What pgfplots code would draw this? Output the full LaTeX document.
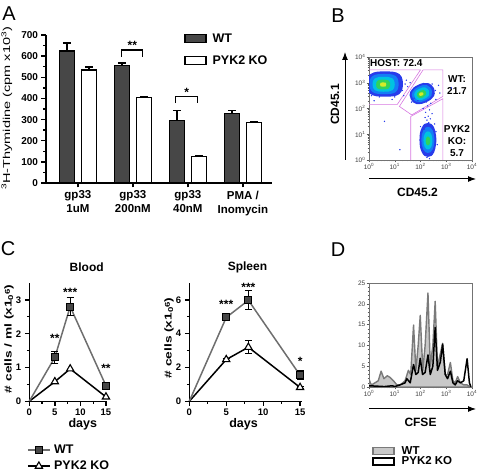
\documentclass[border=0pt]{standalone}
\usepackage{pgfplots}
\pgfplotsset{compat=1.18}
\usepackage{fontspec}
\setmainfont{Liberation Sans}
\usetikzlibrary{arrows.meta}
\definecolor{wtbar}{HTML}{474747}
\definecolor{wtline}{HTML}{6E6E6E}
\definecolor{gate}{RGB}{215,120,225}
\definecolor{j1}{RGB}{40,60,235}
\definecolor{j2}{RGB}{20,125,245}
\definecolor{j3}{RGB}{0,195,225}
\definecolor{j4}{RGB}{50,210,90}
\definecolor{j5}{RGB}{215,235,40}
\definecolor{dfill}{HTML}{C8C8C8}
\definecolor{dline}{HTML}{7A7A7A}
\newcommand{\fs}[1]{\fontsize{#1}{#1}\selectfont}
\pgfplotsset{
  boxlegendA/.style={legend image code/.code={\draw[##1] (0pt,-4pt) rectangle (21pt,4pt);}},
  boxlegendD/.style={legend image code/.code={\draw[##1] (0pt,-3.5pt) rectangle (21pt,3.5pt);}},
  linelegend/.style={legend image code/.code={\draw[mark repeat=2,mark phase=2,##1] plot coordinates {(0pt,0pt) (11pt,0pt) (22pt,0pt)};}},
  blob/.style={fill=#1, draw=none, smooth, tension=0.75, forget plot},
  flowax/.style={scale only axis, anchor=south west,
     xmin=0, xmax=4, xtick={0,1,2,3,4},
     xticklabels={10\textsuperscript{0},10\textsuperscript{1},10\textsuperscript{2},10\textsuperscript{3},10\textsuperscript{4}},
     minor xtick={0.301,0.477,0.602,0.699,0.778,0.845,0.903,0.954,1.301,1.477,1.602,1.699,1.778,1.845,1.903,1.954,2.301,2.477,2.602,2.699,2.778,2.845,2.903,2.954,3.301,3.477,3.602,3.699,3.778,3.845,3.903,3.954},
     tick align=outside, tick pos=left, major tick length=2.5pt, minor tick length=1.3pt,
     every tick/.style={black!65, line width=0.4pt},
     axis line style={black!55, line width=0.5pt},
     ticklabel style={font=\fs{6.5}, text=black!75, inner sep=1pt},
     /pgf/number format/assume math mode=true},
  catax/.style={scale only axis, anchor=south west, clip=false,
     axis x line*=bottom, axis y line*=left,
     axis line style={line width=1.3pt},
     tick align=outside, major tick length=4.5pt, minor tick length=2.5pt,
     every tick/.style={line width=1.3pt, black},
     /pgf/number format/assume math mode=true},
}
\begin{document}
\begin{tikzpicture}
\path[use as bounding box] (0,0) rectangle (482pt,476pt);

% ---------------- Panel A ----------------
\begin{axis}[catax, name=A,
  at={(46pt,293pt)}, width=226pt, height=148pt,
  xmin=-0.58, xmax=3.53, ymin=0, ymax=700,
  ybar, bar width=0.27,
  xtick={0,1,2,3},
  xticklabels={{gp33\\1uM},{gp33\\200nM},{gp33\\40nM},{PMA /\\Inomycin}},
  xticklabel style={align=center, font=\fontsize{11.5}{14}\selectfont\bfseries, inner sep=1pt, yshift=-2pt},
  ytick={0,100,...,700}, minor y tick num=1,
  yticklabel style={font=\fs{10}\bfseries},
  ylabel={\scalebox{1.45}[1]{\textsuperscript{3}H-Thymidine (cpm x10\textsuperscript{3})}},
  ylabel style={font=\fs{10}, at={(rel axis cs:-0.173,0.505)}, anchor=center},
  legend style={at={(rel axis cs:0.611,1.025)}, anchor=north west, draw=none, fill=none,
     font=\fs{12.5}\bfseries, row sep=8pt, inner sep=0pt,
     /tikz/every odd column/.append style={column sep=4pt}},
  legend cell align=left,
]
\addplot[forget plot, fill=wtbar, draw=black, line width=1.3pt, bar shift=-0.2,
  error bars/.cd, y dir=plus, y explicit,
  error bar style={line width=1.3pt, black},
  error mark options={rotate=90, mark size=4pt, line width=1.3pt, black}]
  coordinates {(0,625) +- (0,37) (1,555) +- (0,13) (2,295) +- (0,47) (3,328) +- (0,14)};
\addplot[forget plot, fill=white, draw=black, line width=1.3pt, bar shift=0.2,
  error bars/.cd, y dir=plus, y explicit,
  error bar style={line width=1.3pt, black},
  error mark options={rotate=90, mark size=4pt, line width=1.3pt, black}]
  coordinates {(0,535) +- (0,14) (1,403) +- (0,5) (2,125) +- (0,2) (3,285) +- (0,5)};
\addlegendimage{boxlegendA, fill=wtbar, draw=black, line width=1.3pt}
\addlegendentry{WT}
\addlegendimage{boxlegendA, fill=white, draw=black, line width=1.3pt}
\addlegendentry{PYK2 KO}
\draw[line width=1.1pt] (axis cs:0.8,596) -- (axis cs:0.8,629) -- (axis cs:1.18,629) -- (axis cs:1.18,596);
\node[font=\fs{12}\bfseries, anchor=base, inner sep=0pt] at (axis cs:0.99,630) {**};
\draw[line width=1.1pt] (axis cs:1.78,378) -- (axis cs:1.78,407) -- (axis cs:2.18,407) -- (axis cs:2.18,378);
\node[font=\fs{12}\bfseries, anchor=base, inner sep=0pt] at (axis cs:1.98,408) {*};
\end{axis}

% ---------------- Panel B ----------------
\begin{axis}[flowax, name=B,
  at={(369pt,316pt)}, width=103pt, height=103pt,
  ymin=0, ymax=4, ytick={0,1,2,3,4},
  yticklabels={10\textsuperscript{0},10\textsuperscript{1},10\textsuperscript{2},10\textsuperscript{3},10\textsuperscript{4}},
  minor ytick={0.301,0.477,0.602,0.699,0.778,0.845,0.903,0.954,1.301,1.477,1.602,1.699,1.778,1.845,1.903,1.954,2.301,2.477,2.602,2.699,2.778,2.845,2.903,2.954,3.301,3.477,3.602,3.699,3.778,3.845,3.903,3.954},
]
% HOST population
\addplot[blob=j1] coordinates {(1.32,2.95)(1.18,3.34)(0.62,3.44)(0.06,3.34)(-0.08,2.95)(0.06,2.56)(0.62,2.46)(1.18,2.56)(1.32,2.95)};
\addplot[blob=j2] coordinates {(1.15,2.95)(1.04,3.26)(0.59,3.34)(0.14,3.26)(0.03,2.95)(0.14,2.64)(0.59,2.56)(1.04,2.64)(1.15,2.95)};
\addplot[blob=j3] coordinates {(1.00,2.94)(0.91,3.17)(0.57,3.23)(0.23,3.17)(0.14,2.94)(0.23,2.71)(0.57,2.65)(0.91,2.71)(1.00,2.94)};
\addplot[blob=j4] coordinates {(0.82,2.93)(0.77,3.08)(0.55,3.12)(0.33,3.08)(0.28,2.93)(0.33,2.78)(0.55,2.74)(0.77,2.78)(0.82,2.93)};
\addplot[blob=j5] coordinates {(0.67,2.93)(0.65,3.00)(0.55,3.015)(0.45,3.00)(0.43,2.93)(0.45,2.86)(0.55,2.845)(0.65,2.86)(0.67,2.93)};
% WT population
\addplot[blob=j1] coordinates {(2.52,2.79)(2.29,2.99)(1.91,2.92)(1.61,2.67)(1.62,2.37)(1.85,2.17)(2.23,2.25)(2.53,2.49)(2.52,2.79)};
\addplot[blob=j2] coordinates {(2.42,2.75)(2.24,2.91)(1.93,2.85)(1.69,2.65)(1.70,2.41)(1.88,2.25)(2.19,2.31)(2.43,2.51)(2.42,2.75)};
\addplot[blob=j3] coordinates {(2.32,2.70)(2.18,2.82)(1.96,2.77)(1.78,2.63)(1.78,2.44)(1.92,2.32)(2.14,2.37)(2.33,2.51)(2.32,2.70)};
\addplot[blob=j4] coordinates {(2.21,2.64)(2.12,2.72)(1.98,2.69)(1.87,2.60)(1.87,2.48)(1.96,2.40)(2.10,2.43)(2.21,2.53)(2.21,2.64)};
\addplot[blob=j5] coordinates {(2.11,2.60)(2.07,2.63)(2.00,2.62)(1.95,2.58)(1.95,2.52)(1.99,2.49)(2.06,2.50)(2.11,2.54)(2.11,2.60)};
% PYK2 KO population
\addplot[blob=j1] coordinates {(2.62,0.78)(2.53,1.26)(2.29,1.44)(2.05,1.26)(1.96,0.78)(2.05,0.30)(2.29,0.12)(2.53,0.30)(2.62,0.78)};
\addplot[blob=j2] coordinates {(2.544,0.78)(2.473,1.146)(2.29,1.288)(2.107,1.146)(2.036,0.78)(2.107,0.414)(2.29,0.272)(2.473,0.414)(2.544,0.78)};
\addplot[blob=j3] coordinates {(2.465,0.76)(2.416,1.012)(2.29,1.11)(2.164,1.012)(2.115,0.76)(2.164,0.508)(2.29,0.41)(2.416,0.508)(2.465,0.76)};
\addplot[blob=j4] coordinates {(2.379,0.74)(2.354,0.868)(2.29,0.918)(2.226,0.868)(2.201,0.74)(2.226,0.612)(2.29,0.562)(2.354,0.612)(2.379,0.74)};
% scattered events
\addplot[only marks, mark=*, mark size=0.45pt, j1] coordinates {
 (2.25,1.55)(2.30,1.70)(2.20,1.85)(2.35,1.95)(2.28,2.10)(2.40,2.20)(2.18,1.65)(2.32,1.45)
 (2.45,1.80)(2.10,2.00)(2.22,2.25)(2.38,1.60)(1.30,2.70)(1.45,3.10)(1.50,2.85)(0.20,2.30)
 (0.90,2.35)(1.10,3.30)(2.60,2.35)(2.70,2.90)(1.75,2.40)(2.50,0.30)(2.05,0.50)(2.60,1.10)
 (2.00,1.30)(1.20,0.40)(0.60,1.50)(3.20,2.80)(2.35,0.05)(2.25,0.10)(1.35,2.50)(0.05,3.30)
 (1.60,3.00)(2.75,2.60)(2.55,1.40)(2.15,1.20)(1.90,2.30)(2.65,0.60)(1.40,2.95)(1.25,3.20)
 (0.10,2.50)(0.40,2.45)(1.00,2.45)(2.58,2.70)(2.45,2.95)(1.65,2.25)(2.00,0.95)(2.58,0.95)};
% gates
\addplot[gate, line width=0.6pt] coordinates {(0,3.5)(2.0,3.5)(1.1,2.16)(0,2.16)};
\addplot[gate, line width=0.6pt] coordinates {(2.1,3.5)(2.87,3.5)(2.87,2.47)(1.66,1.75)(1.18,2.08)(2.1,3.5)};
\addplot[gate, line width=0.6pt] coordinates {(1.62,0)(1.62,1.69)(2.87,2.38)(2.87,0)};
\node[anchor=west, font=\fs{10}\bfseries, inner sep=0pt] at (rel axis cs:0.01,0.94) {HOST: 72.4};
\node[align=center, font=\fontsize{10}{12}\selectfont\bfseries, inner sep=0pt] at (rel axis cs:0.854,0.73) {WT:\\21.7};
\node[align=center, font=\fontsize{10}{12}\selectfont\bfseries, inner sep=0pt] at (rel axis cs:0.854,0.184) {PYK2\\KO:\\5.7};
\end{axis}
\draw[line width=1pt, -{Latex[length=8pt,width=6pt]}] ([xshift=-24pt]B.south west) -- ([xshift=-24pt,yshift=5pt]B.north west);
\draw[line width=1pt, -{Latex[length=8pt,width=6pt]}] ([yshift=-19pt]B.south west) -- ([xshift=4pt,yshift=-19pt]B.south east);
\node[rotate=90, font=\fs{12}\bfseries] at ([xshift=-34pt,yshift=4pt]B.west) {CD45.1};
\node[font=\fs{12}\bfseries] at ([yshift=-32pt,xshift=-3pt]B.south) {CD45.2};

% ---------------- Panel C: Blood ----------------
\begin{axis}[catax, name=C1,
  at={(29.3pt,74.7pt)}, width=78.2pt, height=118.3pt,
  xmin=0, xmax=15.3, ymin=0, ymax=3.5,
  xtick={0,5,10,15}, minor x tick num=1,
  ytick={0,1,2,3}, minor y tick num=1,
  ticklabel style={font=\fs{9.5}\bfseries},
  title={Blood}, title style={at={(rel axis cs:0.734,1.085)}, anchor=center, font=\fs{12}\bfseries},
  xlabel={days}, xlabel style={at={(rel axis cs:0.684,-0.19)}, anchor=center, font=\fs{12.5}\bfseries},
  ylabel={\scalebox{1.37}[1]{\# cells / ml (x1\raisebox{-0.3ex}{\fs{7}0}\raisebox{0.3ex}{\fs{7}6})}},
  ylabel style={at={(rel axis cs:-0.26,0.527)}, anchor=center, font=\fs{10}\bfseries},
  legend style={at={(rel axis cs:-0.03,-0.35)}, anchor=north west, draw=none, fill=none,
     font=\fs{12.5}\bfseries, row sep=2pt, inner sep=0pt,
     /tikz/every odd column/.append style={column sep=1.5pt}},
  legend cell align=left,
]
\addplot[forget plot, black, line width=1.5pt, mark=triangle*, mark size=4.2pt, mark indices={2,3,4},
  mark options={fill=white, draw=black, line width=1.1pt}]
  coordinates {(0,0) (5,0.58) (8,0.96) (15,0.13)};
\addplot[forget plot, wtline, line width=1.5pt, mark=square*, mark size=3.5pt, mark indices={2,3,4},
  mark options={fill=wtbar, draw=black, line width=1pt},
  error bars/.cd, y dir=both, y explicit,
  error bar style={black, line width=1.2pt},
  error mark options={rotate=90, mark size=3.5pt, black, line width=1.2pt}]
  coordinates {(0,0) +- (0,0) (5,1.30) +- (0,0.17) (8,2.80) +- (0,0.27) (15,0.46) +- (0,0.04)};
\addlegendimage{linelegend, wtline, line width=1.5pt, mark=square*, mark size=3.5pt,
  mark options={fill=wtbar, draw=black, line width=1pt}}
\addlegendentry{WT}
\addlegendimage{linelegend, black, line width=1.5pt, mark=triangle*, mark size=4.2pt,
  mark options={fill=white, draw=black, line width=1.1pt}}
\addlegendentry{PYK2 KO}
\node[font=\fs{12}\bfseries, anchor=base, inner sep=0pt] at (axis cs:5,1.73) {**};
\node[font=\fs{12}\bfseries, anchor=base, inner sep=0pt] at (axis cs:8,3.10) {***};
\node[font=\fs{12}\bfseries, anchor=base, inner sep=0pt] at (axis cs:15,0.86) {**};
\end{axis}

% ---------------- Panel C: Spleen ----------------
\begin{axis}[catax, name=C2,
  at={(189.3pt,74.7pt)}, width=113pt, height=118.3pt,
  xmin=0, xmax=15.3, ymin=0, ymax=7,
  xtick={0,5,10,15}, minor x tick num=1,
  ytick={0,2,4,6}, minor y tick num=1,
  ticklabel style={font=\fs{9.5}\bfseries},
  title={Spleen}, title style={at={(rel axis cs:0.515,1.085)}, anchor=center, font=\fs{12}\bfseries},
  xlabel={days}, xlabel style={at={(rel axis cs:0.48,-0.19)}, anchor=center, font=\fs{12.5}\bfseries},
  ylabel={\scalebox{1.37}[1]{\# cells (x1\raisebox{-0.3ex}{\fs{7}0}\raisebox{0.3ex}{\fs{7}6})}},
  ylabel style={at={(rel axis cs:-0.18,0.536)}, anchor=center, font=\fs{10}\bfseries},
]
\addplot[black, line width=1.5pt, mark=triangle*, mark size=4.2pt, mark indices={2,3,4},
  mark options={fill=white, draw=black, line width=1.1pt},
  error bars/.cd, y dir=both, y explicit,
  error bar style={black, line width=1.2pt},
  error mark options={rotate=90, mark size=3.5pt, black, line width=1.2pt}]
  coordinates {(0,0) +- (0,0) (5,2.47) +- (0,0.08) (8,3.20) +- (0,0.38) (15,0.82) +- (0,0.05)};
\addplot[wtline, line width=1.5pt, mark=square*, mark size=3.5pt, mark indices={2,3,4},
  mark options={fill=wtbar, draw=black, line width=1pt},
  error bars/.cd, y dir=both, y explicit,
  error bar style={black, line width=1.2pt},
  error mark options={rotate=90, mark size=3.5pt, black, line width=1.2pt}]
  coordinates {(0,0) +- (0,0) (5,4.96) +- (0,0.18) (8,5.98) +- (0,0.57) (15,1.54) +- (0,0.25)};
\node[font=\fs{12}\bfseries, anchor=base, inner sep=0pt] at (axis cs:5,5.52) {***};
\node[font=\fs{12}\bfseries, anchor=base, inner sep=0pt] at (axis cs:8,6.50) {***};
\node[font=\fs{12}\bfseries, anchor=base, inner sep=0pt] at (axis cs:15,2.10) {*};
\end{axis}

% ---------------- Panel D ----------------
\begin{axis}[flowax, name=D,
  at={(369pt,89pt)}, width=103pt, height=104pt,
  ymin=0, ymax=25, ytick={0,5,10,15,20,25}, minor y tick num=4,
  legend style={at={(rel axis cs:0.03,-0.55)}, anchor=north west, draw=none, fill=none,
     font=\fs{11.5}\bfseries, row sep=-3pt, inner sep=0pt,
     /tikz/every odd column/.append style={column sep=5pt}},
  legend cell align=left,
]
\addplot[forget plot, fill=dfill, draw=dline, line width=1.4pt, line join=round] coordinates {
 (0.00,2.0)(0.05,1.0)(0.10,0.5)(0.23,1.0)(0.36,1.5)(0.47,3.8)(0.58,2.0)(0.71,2.7)(0.82,2.3)
 (0.95,1.5)(1.08,0.5)(1.21,0.5)(1.31,1.0)(1.40,1.5)(1.53,4.0)(1.62,3.0)(1.73,14.9)(1.82,4.0)
 (1.91,10.0)(1.99,17.2)(2.09,4.0)(2.18,10.0)(2.29,22.6)(2.38,5.0)(2.48,10.0)(2.57,20.6)(2.66,5.0)
 (2.77,8.0)(2.86,10.5)(2.96,3.0)(3.05,3.0)(3.16,5.9)(3.26,1.5)(3.35,1.0)(3.44,2.5)(3.55,1.0)
 (3.68,0.5)(3.81,0.5)(3.94,0.0)} \closedcycle;
\addplot[forget plot, black, line width=1.5pt, line join=round] coordinates {
 (0.00,0.3)(0.30,0.2)(0.60,0.1)(0.90,0.3)(1.00,0.1)(1.20,0.5)(1.40,1.0)(1.47,2.0)(1.60,1.0)
 (1.73,5.4)(1.82,3.0)(1.91,3.5)(1.99,6.9)(2.08,3.0)(2.18,3.5)(2.29,7.7)(2.38,3.0)(2.48,5.0)
 (2.57,14.3)(2.66,4.0)(2.77,6.0)(2.86,10.3)(2.96,3.0)(3.05,2.0)(3.16,3.8)(3.26,1.0)(3.35,0.5)
 (3.44,1.5)(3.55,1.0)(3.68,1.5)(3.81,6.8)(3.90,1.0)(3.96,0.0)};
\addlegendimage{boxlegendD, fill=dfill, draw=dline, line width=1.4pt}
\addlegendentry{WT}
\addlegendimage{boxlegendD, fill=white, draw=black, line width=1.4pt}
\addlegendentry{PYK2 KO}
\end{axis}
\draw[line width=1pt, -{Latex[length=8pt,width=6pt]}] ([yshift=-22pt]D.south west) -- ([xshift=4pt,yshift=-22pt]D.south east);
\node[font=\fs{12}\bfseries] at ([yshift=-35pt]D.south) {CFSE};

% panel letters
\node[font=\fs{20}] at (9pt,462pt) {A};
\node[font=\fs{20}] at (338pt,460pt) {B};
\node[font=\fs{20}] at (8pt,227pt) {C};
\node[font=\fs{20}] at (338pt,226pt) {D};
\end{tikzpicture}
\end{document}
